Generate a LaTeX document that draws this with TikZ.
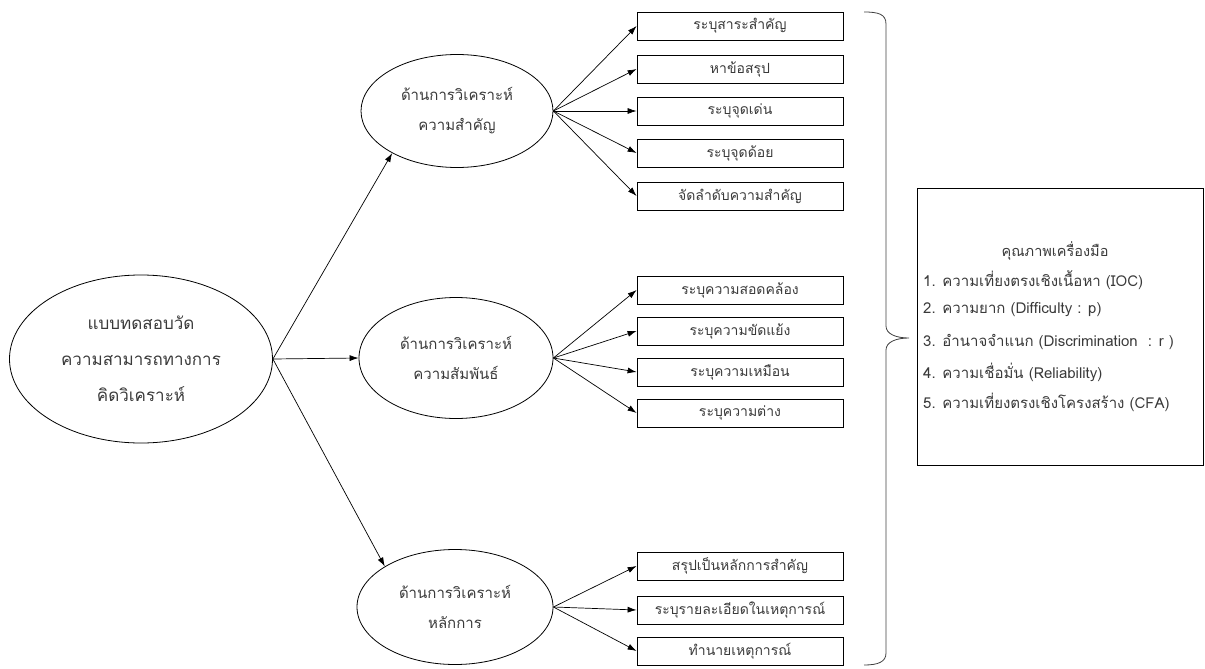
\documentclass[tikz,border=0pt]{standalone}
\usepackage{fontspec}
\setmainfont{Loma}[Script=Thai]
\usetikzlibrary{arrows.meta,shapes.geometric}
\definecolor{ink}{HTML}{3A3A3A}
\tikzset{
  ell/.style={ellipse,draw,line width=0.8pt,inner sep=0pt,text=ink,align=center},
  itembox/.style={rectangle,draw,line width=0.8pt,minimum width=206pt,minimum height=28pt,
    inner sep=0pt,text=ink,font=\fontsize{14}{16}\selectfont},
  link/.style={line width=0.7pt,-{Latex[length=9pt,width=6pt]}},
  brace/.style={line width=0.8pt,draw=black!75},
  qline/.style={anchor=west,text=ink,font=\fontsize{15}{17}\selectfont,inner sep=0pt}
}
\begin{document}
\begin{tikzpicture}[x=1pt,y=-1pt]
\useasboundingbox (0,0) rectangle (1205,669);

% main test ellipse
\node[ell,minimum width=263pt,minimum height=168pt,font=\fontsize{17}{36}\selectfont]
  (m) at (141,359) {แบบทดสอบวัด\\ความสามารถทางการ\\คิดวิเคราะห์};

% analysis aspects
\node[ell,minimum width=192pt,minimum height=113pt,font=\fontsize{15}{30}\selectfont]
  (a) at (457,111) {ด้านการวิเคราะห์\\ความสำคัญ};
\node[ell,minimum width=194pt,minimum height=121pt,font=\fontsize{15}{30}\selectfont]
  (b) at (456,358) {ด้านการวิเคราะห์\\ความสัมพันธ์};
\node[ell,minimum width=196pt,minimum height=115pt,font=\fontsize{15}{30}\selectfont]
  (c) at (455,607) {ด้านการวิเคราะห์\\หลักการ};

% sub-skills
\node[itembox] (a1) at (740,26)  {ระบุสาระสำคัญ};
\node[itembox] (a2) at (740,69)  {หาข้อสรุป};
\node[itembox] (a3) at (740,111) {ระบุจุดเด่น};
\node[itembox] (a4) at (740,153) {ระบุจุดด้อย};
\node[itembox] (a5) at (740,196) {จัดลำดับความสำคัญ};

\node[itembox] (b1) at (740,290) {ระบุความสอดคล้อง};
\node[itembox] (b2) at (740,331) {ระบุความขัดแย้ง};
\node[itembox] (b3) at (740,372) {ระบุความเหมือน};
\node[itembox] (b4) at (740,413) {ระบุความต่าง};

\node[itembox] (c1) at (740,566) {สรุปเป็นหลักการสำคัญ};
\node[itembox] (c2) at (740,610) {ระบุรายละเอียดในเหตุการณ์};
\node[itembox] (c3) at (740,651) {ทำนายเหตุการณ์};

% connectors
\draw[link] (m.east) -- (a.213);
\draw[link] (m.east) -- (b.west);
\draw[link] (m.east) -- (c.150);
\foreach \t in {a1,a2,a3,a4,a5} \draw[link] (a.east) -- (\t.west);
\foreach \t in {b1,b2,b3,b4} \draw[link] (b.east) -- (\t.west);
\foreach \t in {c1,c2,c3} \draw[link] (c.east) -- (\t.west);

% curly brace
\coordinate (bt) at (864,12);
\coordinate (bb) at (864,665);
\coordinate (tip) at (909,338);
\draw[brace] (bt) .. controls (878,12) and (886,14) .. (886,24)
  -- (886,326) .. controls (886,334) and (896,338) .. (tip)
  .. controls (896,338) and (886,342) .. (886,350)
  -- (886,653) .. controls (886,662) and (878,665) .. (bb);

% instrument quality box
\node[draw,line width=0.8pt,minimum width=286pt,minimum height=277pt,inner sep=0pt]
  (q) at (1060,326.5) {};
\node[text=ink,font=\fontsize{14.5}{16}\selectfont] (qt) at (1055,251) {คุณภาพเครื่องมือ};
\node[qline] (q1) at (923,280) {1. ความเที่ยงตรงเชิงเนื้อหา (IOC)};
\node[qline] (q2) at (923,310) {2. ความยาก (Difficulty : p)};
\node[qline] (q3) at (923,342) {3. อำนาจจำแนก (Discrimination~ : r )};
\node[qline] (q4) at (923,372) {4. ความเชื่อมั่น (Reliability)};
\node[qline] (q5) at (923,402) {5. ความเที่ยงตรงเชิงโครงสร้าง (CFA)};
\end{tikzpicture}
\end{document}
